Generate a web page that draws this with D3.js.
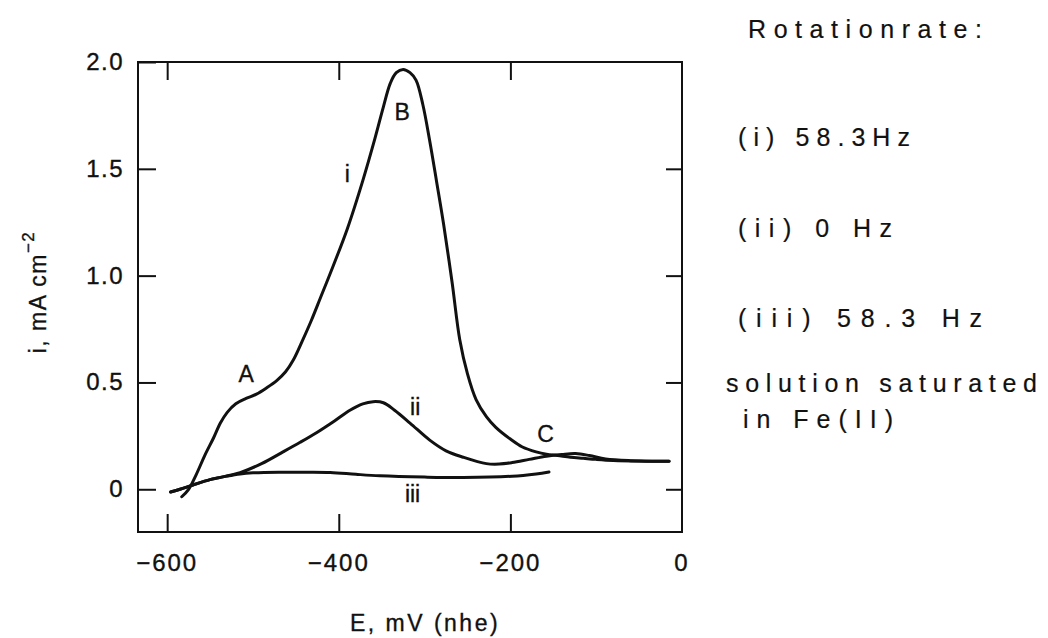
<!DOCTYPE html>
<meta charset="utf-8">
<script src="https://d3js.org/d3.v7.min.js"></script>
<style>
  body { margin: 0; background: #fff; }
  text { font-family: "Liberation Sans", Arial, sans-serif; fill: #111; stroke: #111; stroke-width: 0.35px; }
</style>
<body>
<div id="chart"></div>
<script>
// curve i (58.3 Hz)
var E1 = [-583, -575, -566, -556, -546, -538, -530, -520, -508, -496, -484, -472, -462, -453, -443, -432,
          -421, -410, -390, -372, -358, -348, -340, -333, -325, -317, -310, -302, -294, -286, -278, -268, -259,
          -250, -240, -228, -217, -200, -186, -170, -158, -145, -130, -115, -100, -80, -50, -15];
var I1 = [-0.035, 0.0, 0.07, 0.16, 0.24, 0.31, 0.36, 0.40, 0.425, 0.445, 0.475, 0.51, 0.55, 0.605, 0.69, 0.79,
          0.90, 1.01, 1.22, 1.445, 1.64, 1.79, 1.90, 1.95, 1.965, 1.95, 1.915, 1.80, 1.63, 1.44, 1.245, 0.97, 0.70,
          0.54, 0.42, 0.34, 0.29, 0.235, 0.198, 0.175, 0.164, 0.158, 0.150, 0.145, 0.140, 0.135, 0.132, 0.131];

// curve ii (0 Hz)
var E2 = [-596, -585, -570, -550, -540, -515, -490, -465, -445, -426, -405, -387, -372, -360, -348, -335,
          -317, -294, -275, -255, -228, -213, -198, -178, -158, -140, -124, -108, -89, -60, -15];
var I2 = [-0.013, 0.0, 0.02, 0.045, 0.054, 0.078, 0.12, 0.175, 0.22, 0.265, 0.32, 0.37, 0.40, 0.41, 0.405, 0.37,
          0.31, 0.23, 0.18, 0.15, 0.12, 0.118, 0.125, 0.14, 0.155, 0.163, 0.167, 0.158, 0.142, 0.134, 0.131];

// curve iii (58.3 Hz)
var E3 = [-596, -585, -570, -550, -530, -515, -500, -470, -445, -410, -380, -352, -300, -255, -198, -170, -155];
var I3 = [-0.013, 0.0, 0.02, 0.045, 0.062, 0.072, 0.077, 0.08, 0.08, 0.079, 0.07, 0.063, 0.057, 0.055, 0.061, 0.072, 0.081];

var xTicks = [-600, -400, -200, 0];
var yTicks = [0, 0.5, 1.0, 1.5, 2.0];
var yTickLabels = ["0", "0.5", "1.0", "1.5", "2.0"];

var curveLabels = [
  {t: "i", E: -390, i: 1.44},
  {t: "B", E: -326, i: 1.73},
  {t: "A", E: -508, i: 0.50},
  {t: "ii", E: -311, i: 0.35},
  {t: "C", E: -159, i: 0.22},
  {t: "iii", E: -314, i: -0.06}
];

var notes = ["Rotationrate:", "(i) 58.3Hz", "(ii) 0 Hz", "(iii) 58.3 Hz", "solution saturated", "in Fe(II)"];

var W = 1048, H = 638;
var margin = {top: 62, right: 366, bottom: 106, left: 138},
    width = W - margin.left - margin.right,
    height = H - margin.top - margin.bottom;

var svg = d3.select("#chart")
  .append("svg")
    .attr("width", W)
    .attr("height", H);

var g = svg.append("g")
    .attr("transform", "translate(" + margin.left + "," + margin.top + ")");

var x = d3.scaleLinear().domain([-634, 0]).range([0, width]);
var y = d3.scaleLinear().domain([-0.2, 2.0]).range([height, 0]);

// axes with inward ticks
g.append("g")
  .attr("transform", "translate(0," + height + ")")
  .call(d3.axisTop(x).tickValues(xTicks.slice(0, 3)).tickSize(18).tickFormat(""));
g.append("g")
  .call(d3.axisBottom(x).tickValues(xTicks.slice(0, 3)).tickSize(18).tickFormat(""));
g.append("g")
  .call(d3.axisRight(y).tickValues(yTicks).tickSize(18).tickFormat(""));
g.append("g")
  .attr("transform", "translate(" + width + ",0)")
  .call(d3.axisLeft(y).tickValues(yTicks.slice(0, 4)).tickSize(16).tickFormat(""));
g.selectAll(".domain").remove();
g.selectAll(".tick line").attr("stroke", "#111").attr("stroke-width", 2);

// frame
g.append("rect")
  .attr("width", width)
  .attr("height", height)
  .attr("fill", "none")
  .attr("stroke", "#111")
  .attr("stroke-width", 2);

// tick labels
g.selectAll(".xl").data(xTicks).enter().append("text")
  .attr("x", function(d) { return x(d); })
  .attr("y", height + 39)
  .attr("text-anchor", "middle")
  .style("font-size", "24px")
  .style("letter-spacing", "2px")
  .text(function(d) { return d === 0 ? "0" : "\u2212" + Math.abs(d); });

g.selectAll(".yl").data(yTicks).enter().append("text")
  .attr("x", -14)
  .attr("y", function(d) { return y(d) + 8; })
  .attr("text-anchor", "end")
  .style("font-size", "24px")
  .style("letter-spacing", "1.5px")
  .text(function(d, i) { return yTickLabels[i]; });

// axis titles
svg.append("text")
  .attr("x", 425)
  .attr("y", 631)
  .attr("text-anchor", "middle")
  .style("font-size", "23px")
  .style("letter-spacing", "2.5px")
  .text("E, mV (nhe)");

var yt = svg.append("text")
  .attr("transform", "translate(46,292) rotate(-90)")
  .attr("text-anchor", "middle")
  .style("font-size", "23px")
  .style("letter-spacing", "1.5px");
yt.append("tspan").text("i, mA cm");
yt.append("tspan").attr("dy", -12).style("font-size", "17px").text("\u22122");

// curves
var line = d3.line()
  .x(function(d) { return x(d[0]); })
  .y(function(d) { return y(d[1]); })
  .curve(d3.curveCatmullRom.alpha(0.5));

[[E1, I1], [E2, I2], [E3, I3]].forEach(function(s) {
  g.append("path")
    .datum(d3.zip(s[0], s[1]))
    .attr("fill", "none")
    .attr("stroke", "#111")
    .attr("stroke-width", 3)
    .attr("stroke-linecap", "round")
    .attr("d", line);
});

// curve labels
g.selectAll(".cl").data(curveLabels).enter().append("text")
  .attr("x", function(d) { return x(d.E); })
  .attr("y", function(d) { return y(d.i); })
  .attr("text-anchor", "middle")
  .style("font-size", "23px")
  .text(function(d) { return d.t; });

// notes on the right
var noteX = [748, 738, 738, 738, 726, 743];
var noteY = [38, 146, 237, 327, 392, 428];
var noteW = [234, 172, 154, 244, 311, 150];
svg.selectAll(".note").data(notes).enter().append("text")
  .attr("x", function(d, i) { return noteX[i]; })
  .attr("y", function(d, i) { return noteY[i]; })
  .attr("textLength", function(d, i) { return noteW[i]; })
  .attr("lengthAdjust", "spacing")
  .style("font-size", "25px")
  .style("stroke-width", "0.2px")
  .text(function(d) { return d; });
</script>
</body>
